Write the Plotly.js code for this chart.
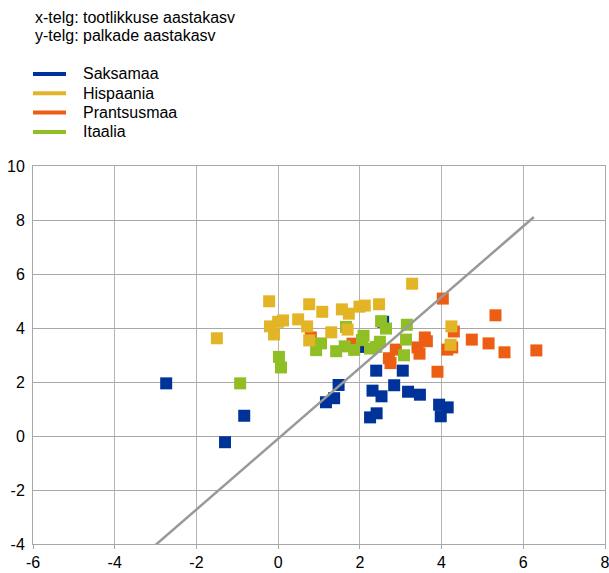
<!DOCTYPE html>
<html>
<head>
<meta charset="utf-8">
<script src="https://cdn.plot.ly/plotly-3.0.1.min.js"></script>
<style>html,body{margin:0;padding:0;background:#fff;}#chart{width:609px;height:573px;}</style>
</head>
<body>
<div id="chart"></div>
<script>
// ---- data ----
const seriesNames = ["Saksamaa", "Hispaania", "Prantsusmaa", "Itaalia"];

const saksamaaX = [-2.74, -1.30, -0.83, 1.17, 1.37, 1.48, 2.40, 3.05, 2.31, 2.53, 2.84, 3.18, 3.47, 2.25, 2.41, 3.94, 4.15, 3.98, 2.57, 1.97];
const saksamaaY = [1.95, -0.23, 0.75, 1.25, 1.40, 1.89, 2.42, 2.42, 1.68, 1.47, 1.88, 1.64, 1.53, 0.69, 0.84, 1.16, 1.06, 0.73, 4.23, 3.30];

const hispaaniaX = [-1.50, -0.22, -0.20, -0.10, 0.00, 0.12, 0.49, 0.71, 0.76, 0.76, 1.08, 1.30, 1.56, 1.73, 1.70, 1.99, 2.12, 2.47, 3.28, 4.24, 4.22];
const hispaaniaY = [3.62, 4.99, 4.06, 3.76, 4.23, 4.28, 4.32, 4.06, 4.88, 3.54, 4.60, 3.84, 4.69, 4.53, 3.94, 4.79, 4.83, 4.88, 5.64, 4.06, 3.38];

const prantsusmaaX = [4.03, 5.32, 4.30, 4.74, 5.15, 5.54, 6.32, 4.14, 4.26, 3.59, 3.64, 3.41, 3.46, 3.90, 2.88, 2.71, 2.75, 0.80, 1.82];
const prantsusmaaY = [5.09, 4.47, 3.87, 3.57, 3.43, 3.10, 3.17, 3.20, 3.28, 3.65, 3.51, 3.28, 3.05, 2.38, 3.20, 2.88, 2.70, 3.65, 3.42];

const itaaliaX = [-0.93, 0.02, 0.07, 0.93, 1.05, 1.42, 1.63, 1.66, 1.86, 2.09, 2.05, 2.25, 2.49, 2.40, 2.52, 2.64, 3.15, 3.13, 3.08];
const itaaliaY = [1.95, 2.93, 2.54, 3.18, 3.43, 3.14, 3.32, 4.04, 3.19, 3.71, 3.55, 3.24, 3.49, 3.30, 4.25, 3.98, 4.12, 3.57, 2.99];

const trendX = [-3.37, 6.26];
const trendY = [-4.52, 8.11];

const xTicks = [-6, -4, -2, 0, 2, 4, 6, 8];
const yTicks = [-4, -2, 0, 2, 4, 6, 8, 10];

const headerLines = ["x-telg: tootlikkuse aastakasv", "y-telg: palkade aastakasv"];

// ---- styling ----
const colors = {
  "Saksamaa": "#003399",
  "Hispaania": "#E3B526",
  "Prantsusmaa": "#EB5E14",
  "Itaalia": "#8FBF24"
};
const FONT = "Liberation Sans, Arial, sans-serif";

function pts(name, x, y) {
  return {
    type: "scatter", mode: "markers", name: name, x: x, y: y,
    marker: {symbol: "square", size: 12, color: colors[name], line: {width: 0}},
    showlegend: false, cliponaxis: false
  };
}

const traces = [
  pts("Saksamaa", saksamaaX, saksamaaY),
  pts("Prantsusmaa", prantsusmaaX, prantsusmaaY),
  pts("Itaalia", itaaliaX, itaaliaY),
  pts("Hispaania", hispaaniaX, hispaaniaY),
  {type: "scatter", mode: "lines", x: trendX, y: trendY, showlegend: false,
   line: {color: "#999999", width: 2.5}, hoverinfo: "skip"}
];

// plot area in pixels
const L = 33, R = 4, T = 166, B = 29, W = 609, H = 573;
const pw = W - L - R, ph = H - T - B;
const px = v => (v - L) / pw;
const py = v => (H - B - v) / ph;

const annotations = [];
const shapes = [];
headerLines.forEach((t, i) => {
  annotations.push({xref: "paper", yref: "paper", x: px(33), y: py(17 + i * 18.5),
    xanchor: "left", yanchor: "middle", showarrow: false, text: t,
    font: {family: FONT, size: 16, color: "#000"}});
});
seriesNames.forEach((n, i) => {
  const yy = 74 + i * 19.3;
  shapes.push({type: "line", xref: "paper", yref: "paper", x0: px(33), x1: px(66), y0: py(yy), y1: py(yy),
    line: {color: colors[n], width: 4}});
  annotations.push({xref: "paper", yref: "paper", x: px(81), y: py(yy), xanchor: "left", yanchor: "middle",
    showarrow: false, text: n, font: {family: FONT, size: 16, color: "#000"}});
});

const layout = {
  width: W, height: H,
  margin: {l: L, r: R, t: T, b: B, pad: 0},
  paper_bgcolor: "#fff", plot_bgcolor: "#fff",
  showlegend: false,
  font: {family: FONT, size: 16, color: "#000"},
  xaxis: {range: [-6, 8], tickvals: xTicks, ticktext: xTicks.map(String), showgrid: true,
    gridcolor: "#b4b4b4", gridwidth: 1, zeroline: false, showline: true, mirror: true,
    linecolor: "#a8a8a8", linewidth: 1, ticks: "outside", ticklen: 4, tickcolor: "#a8a8a8",
    ticklabeloverflow: "allow",
    tickfont: {family: FONT, size: 16, color: "#000"}, fixedrange: true},
  yaxis: {range: [-4, 10], tickvals: yTicks, ticktext: yTicks.map(String), showgrid: true,
    gridcolor: "#a8a8a8", gridwidth: 1, zeroline: false, showline: true, mirror: true,
    linecolor: "#a8a8a8", linewidth: 1, ticks: "", ticklabelstandoff: 4,
    ticklabeloverflow: "allow",
    tickfont: {family: FONT, size: 16, color: "#000"}, fixedrange: true},
  annotations: annotations,
  shapes: shapes
};

Plotly.newPlot("chart", traces, layout, {displayModeBar: false, staticPlot: true});
</script>
</body>
</html>
